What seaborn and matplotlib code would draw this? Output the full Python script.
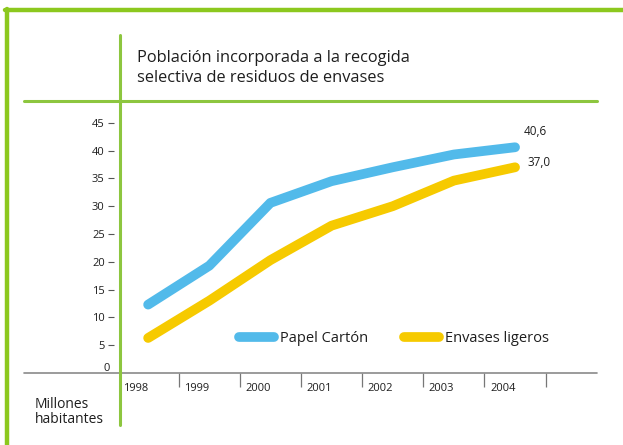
import pandas as pd
import matplotlib.pyplot as plt
import seaborn as sns
from matplotlib.lines import Line2D

# Data (millions of inhabitants)
years = ["1998", "1999", "2000", "2001", "2002", "2003", "2004"]
papel_carton = [12.3, 19.3, 30.6, 34.5, 37.0, 39.3, 40.6]
envases_ligeros = [6.3, 13.0, 20.3, 26.5, 30.0, 34.6, 37.0]
series_names = ["Papel Cartón", "Envases ligeros"]
y_ticks = [5, 10, 15, 20, 25, 30, 35, 40, 45]
end_labels = ["40,6", "37,0"]

title = "Población incorporada a la recogida\nselectiva de residuos de envases"
unit_label = "Millones\nhabitantes"

BLUE = "#52BAEA"
YELLOW = "#F6CA00"
GREEN = "#8DC63F"
BORDER = "#8CC81E"
TEXT = "#1e1e1e"

sns.set_style("white")
plt.rcParams["font.family"] = ["Open Sans", "DejaVu Sans"]

W, H = 623, 445
fig = plt.figure(figsize=(W / 100, H / 100), dpi=100)


def fx(px):
    return px / W


def fy(py):
    return 1 - py / H


# -----------------------------
# long-form table for seaborn
# -----------------------------
pos = list(range(len(years)))
df = pd.DataFrame({
    "pos": pos * 2,
    "valor": papel_carton + envases_ligeros,
    "serie": [series_names[0]] * len(years) + [series_names[1]] * len(years),
})

ax = fig.add_axes([fx(120), fy(373), fx(597) - fx(120), fy(100) - fy(373)])
sns.lineplot(data=df, x="pos", y="valor", hue="serie",
             palette=[BLUE, YELLOW], linewidth=7, solid_capstyle="round",
             legend=False, ax=ax)

ax.set_xlim(-0.46, 7.34)
ax.set_ylim(0, 49.1)
ax.set_xlabel("")
ax.set_ylabel("")
for s in ax.spines.values():
    s.set_visible(False)

# y ticks: small dashes left of the green line
ax.spines["left"].set_position(("outward", 4.5))
ax.set_yticks(y_ticks)
ax.set_yticklabels([str(v) for v in y_ticks])
ax.tick_params(axis="y", direction="out", length=4.5, width=0.8,
               color="#555555", pad=2, labelsize=8, labelcolor=TEXT, left=True)
ax.text(-0.62, 0.8, "0", fontsize=8, color=TEXT, ha="right", va="center",
        transform=ax.transData)

# x ticks: separators between years, labels on the right of each separator
ax.set_xticks([p + 0.5 for p in pos])
ax.set_xticklabels([])
ax.tick_params(axis="x", direction="out", length=10, width=0.9,
               color="#777777", bottom=True)
for p, yr in zip(pos, years):
    ax.text(p - 0.41, -0.055, yr, fontsize=8, color=TEXT, ha="left", va="center",
            transform=ax.get_xaxis_transform())

# end values
ax.annotate(end_labels[0], (pos[-1], papel_carton[-1]), xytext=(9, 16),
            textcoords="offset pixels", fontsize=8.5, color=TEXT, va="center")
ax.annotate(end_labels[1], (pos[-1], envases_ligeros[-1]), xytext=(12, 5),
            textcoords="offset pixels", fontsize=8.5, color=TEXT, va="center")

# legend
handles = [Line2D([0], [0], color=c, lw=7, solid_capstyle="round") for c in (BLUE, YELLOW)]
ax.legend(handles, series_names, loc="center left", ncol=2, frameon=False,
          bbox_to_anchor=(fx(239), fy(339)), bbox_transform=fig.transFigure,
          prop={"size": 10.5},
          handlelength=2.4, handletextpad=0.4, columnspacing=2.5,
          borderpad=0, borderaxespad=0, labelcolor=TEXT)

# -----------------------------
# frame and guide lines
# -----------------------------
fig.add_artist(Line2D([fx(24), fx(597)], [fy(373), fy(373)], color="#8a8a8a", lw=1.2))
fig.add_artist(Line2D([fx(24), fx(597)], [fy(100.5), fy(100.5)], color=GREEN, lw=2.2))
fig.add_artist(Line2D([fx(119.5), fx(119.5)], [fy(35), fy(425)], color=GREEN, lw=2.2))
fig.add_artist(Line2D([fx(5), fx(623)], [fy(10), fy(10)], color=BORDER, lw=3.2))
fig.add_artist(Line2D([fx(7), fx(7)], [fy(8.5), fy(445)], color=BORDER, lw=3.2))

fig.text(fx(137), fy(68), title, fontsize=11.8, color=TEXT, ha="left", va="center",
         linespacing=1.3)
fig.text(fx(35), fy(412), unit_label, fontsize=10, color=TEXT, ha="left", va="center",
         linespacing=0.95)

fig.savefig("out.png", dpi=100)
